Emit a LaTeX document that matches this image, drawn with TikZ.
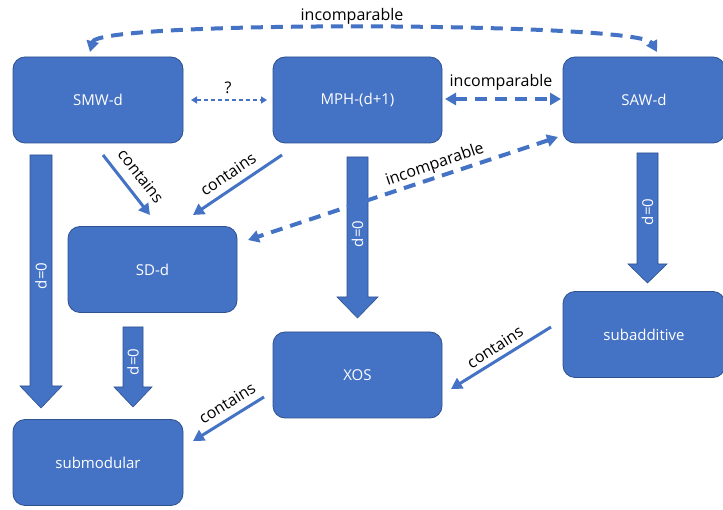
\documentclass[tikz,border=0pt]{standalone}
\usepackage{fontspec}
\setmainfont{Open Sans}
\usetikzlibrary{arrows.meta}
\definecolor{ob}{HTML}{4472C4}
\definecolor{obd}{HTML}{2F528F}
\begin{document}
\begin{tikzpicture}[x=1pt,y=-1pt,
 box/.style={draw=obd, line width=0.8pt, fill=ob, rounded corners=12pt, text=white,
   font=\fontsize{15}{18}\selectfont, inner sep=0pt, minimum height=86pt},
 lbl/.style={font=\fontsize{16}{19}\selectfont, text=black, inner sep=1pt},
 tipone/.style={-{Triangle[length=11pt,width=12pt]}},
 tipboth/.style={{Triangle[length=11pt,width=12pt]}-{Triangle[length=11pt,width=12pt]}},
 conn/.style={draw=ob, line width=3pt},
 dashconn/.style={draw=ob, line width=4pt, dash pattern=on 12pt off 8pt},
 blk/.style={fill=ob, draw=obd, line width=0.6pt},
 blklbl/.style={text=white, rotate=90, inner sep=0pt, font=\fontsize{15}{18}\selectfont}
]
\useasboundingbox (0,0) rectangle (723,510);
\fill[white] (0,0) rectangle (723,510);

% boxes
\node[box, minimum width=170pt] (smw) at (98,100) {SMW-d};
\node[box, minimum width=169pt] (mph) at (357.5,100) {MPH-(d+1)};
\node[box, minimum width=162pt] (saw) at (644,100) {SAW-d};
\node[box, minimum width=169pt] (sd) at (152.5,269.5) {SD-d};
\node[box, minimum width=169pt] (xos) at (357.5,375) {XOS};
\node[box, minimum width=162pt] (sub) at (644,334.5) {subadditive};
\node[box, minimum width=170pt] (smod) at (98,462.5) {submodular};

% block arrows
\draw[blk] (30,155) -- (52,155) -- (52,386) -- (62,386) -- (41,408) -- (20,386) -- (30,386) -- cycle;
\node[blklbl] (l1) at (41,276) {d=0};
\draw[blk] (123,327) -- (143,327) -- (143,387) -- (152,387) -- (133,407) -- (114,387) -- (123,387) -- cycle;
\node[blklbl] (l2) at (133,362) {d=0};
\draw[blk] (347,157) -- (368,157) -- (368,297) -- (378,297) -- (357.5,318) -- (337,297) -- (347,297) -- cycle;
\node[blklbl] (l3) at (357.5,234) {d=0};
\draw[blk] (637,153) -- (658,153) -- (658,264) -- (667,264) -- (647.5,283) -- (628,264) -- (637,264) -- cycle;
\node[blklbl] (l4) at (647.5,212) {d=0};

% connector end points
\coordinate (ta) at (90,52);
\coordinate (tb) at (657,52);
\coordinate (q1) at (191,100);
\coordinate (q2) at (267,100);
\coordinate (m1) at (445,99);
\coordinate (m2) at (561,99);
\coordinate (c1a) at (103,155);
\coordinate (c1b) at (150,215);
\coordinate (c2a) at (282,155);
\coordinate (c2b) at (193,215);
\coordinate (ia) at (558,137);
\coordinate (ib) at (248,240);
\coordinate (c3a) at (551,327);
\coordinate (c3b) at (451,389);
\coordinate (c4a) at (264,397);
\coordinate (c4b) at (193,441);

% connectors
\draw[dashconn, tipboth] (ta) .. controls (98,20) and (640,22) .. (tb);
\node[lbl] (lt) at (352,16) {incomparable};

\draw[draw=ob, line width=1.5pt, dash pattern=on 4pt off 3pt,
  {Triangle[length=6pt,width=7pt]}-{Triangle[length=6pt,width=7pt]}] (q1) -- (q2);
\node[lbl] (lq) at (228,88) {?};

\draw[dashconn, tipboth] (m1) -- (m2);
\node[lbl] (lm) at (501,82) {incomparable};

\draw[conn, tipone] (c1a) -- (c1b);
\node[lbl, rotate=-52] (lc1) at (141,176) {contains};

\draw[conn, tipone] (c2a) -- (c2b);
\node[lbl, rotate=34] (lc2) at (228,174) {contains};

\draw[dashconn, tipboth] (ia) -- (ib);
\node[lbl, rotate=19] (li) at (435,165) {incomparable};

\draw[conn, tipone] (c3a) -- (c3b);
\node[lbl, rotate=33] (lc3) at (495,347) {contains};

\draw[conn, tipone] (c4a) -- (c4b);
\node[lbl, rotate=32] (lc4) at (227,403) {contains};
\end{tikzpicture}
\end{document}
